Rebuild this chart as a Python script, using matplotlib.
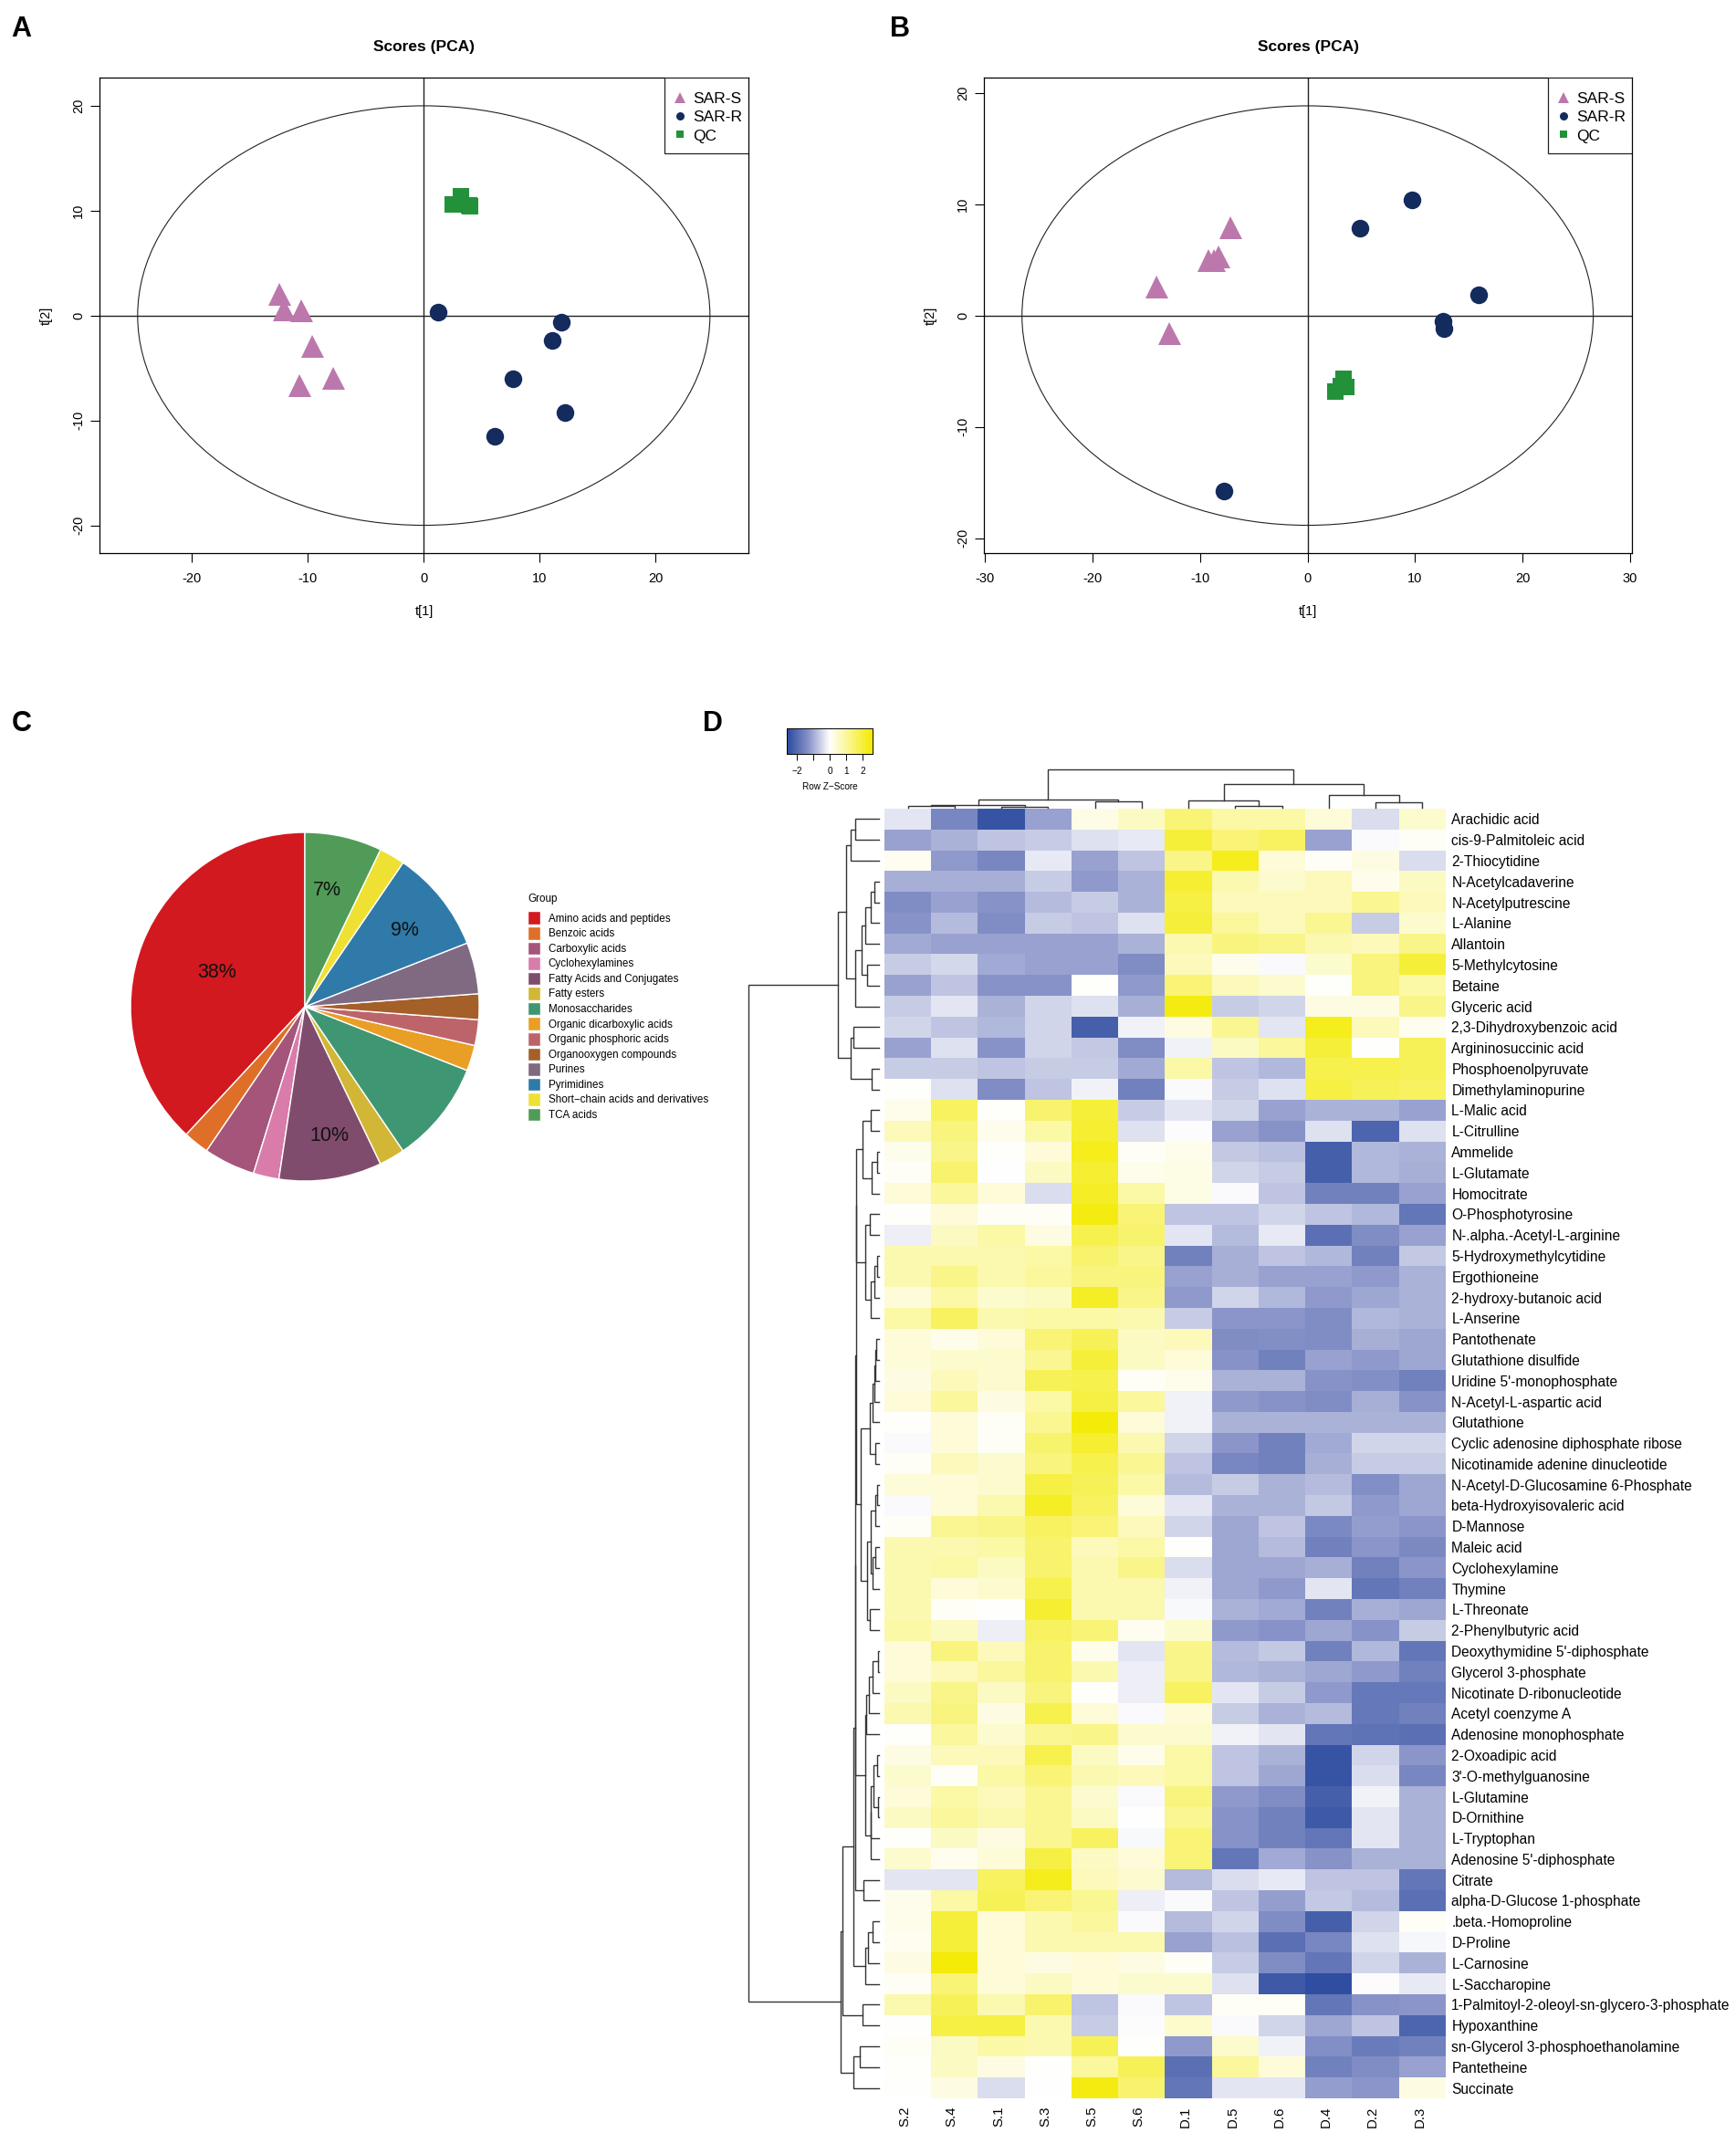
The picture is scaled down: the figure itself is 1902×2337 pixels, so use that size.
import numpy as np
import matplotlib
matplotlib.use('Agg')
import matplotlib.pyplot as plt
from matplotlib.colors import LinearSegmentedColormap
from matplotlib.lines import Line2D
from matplotlib.patches import Ellipse, Rectangle

plt.rcParams['font.family'] = ['Liberation Sans', 'DejaVu Sans']
plt.rcParams['axes.unicode_minus'] = False

W, H = 1902, 2337

# PCA scores
a_tri_x = [-12.5, -12.1, -10.6, -9.6, -7.8, -10.7]
a_tri_y = [2.1, 0.6, 0.5, -2.9, -5.9, -6.6]
a_cir_x = [1.2, 11.9, 11.1, 7.7, 12.2, 6.1]
a_cir_y = [0.3, -0.6, -2.4, -6.0, -9.2, -11.5]
a_sq_x = [3.2, 2.5, 4.0, 3.9]
a_sq_y = [11.4, 10.6, 10.4, 10.5]

b_tri_x = [-7.2, -9.2, -8.7, -8.3, -14.1, -12.9]
b_tri_y = [7.9, 5.0, 5.0, 5.3, 2.6, -1.6]
b_cir_x = [9.7, 4.9, 15.9, 12.6, 12.7, -7.8]
b_cir_y = [10.4, 7.85, 1.9, -0.55, -1.2, -15.8]
b_sq_x = [3.3, 3.1, 3.6, 2.6]
b_sq_y = [-5.7, -6.35, -6.4, -6.8]

# pie
groups = ['Amino acids and peptides', 'Benzoic acids', 'Carboxylic acids', 'Cyclohexylamines',
          'Fatty Acids and Conjugates', 'Fatty esters', 'Monosaccharides', 'Organic dicarboxylic acids',
          'Organic phosphoric acids', 'Organooxygen compounds', 'Purines', 'Pyrimidines',
          'Short\u2212chain acids and derivatives', 'TCA acids']
group_counts = [16, 1, 2, 1, 4, 1, 4, 1, 1, 1, 2, 4, 1, 3]
group_colors = ['#d2191f', '#df6f28', '#a5557a', '#d97cab', '#804c6d', '#d2b737', '#3f9672',
                '#e99f26', '#bd646b', '#a55f29', '#806a82', '#2f7aa8', '#efe133', '#509b57']
pie_labels = ['38%', '7%', '9%', '10%']

# heatmap
samples = ['S.2', 'S.4', 'S.1', 'S.3', 'S.5', 'S.6', 'D.1', 'D.5', 'D.6', 'D.4', 'D.2', 'D.3']
metabolites = ['Arachidic acid', 'cis-9-Palmitoleic acid', '2-Thiocytidine', 'N-Acetylcadaverine',
               'N-Acetylputrescine', 'L-Alanine', 'Allantoin', '5-Methylcytosine', 'Betaine', 'Glyceric acid',
               '2,3-Dihydroxybenzoic acid', 'Argininosuccinic acid', 'Phosphoenolpyruvate', 'Dimethylaminopurine',
               'L-Malic acid', 'L-Citrulline', 'Ammelide', 'L-Glutamate', 'Homocitrate', 'O-Phosphotyrosine',
               'N-.alpha.-Acetyl-L-arginine', '5-Hydroxymethylcytidine', 'Ergothioneine', '2-hydroxy-butanoic acid',
               'L-Anserine', 'Pantothenate', 'Glutathione disulfide', "Uridine 5'-monophosphate",
               'N-Acetyl-L-aspartic acid', 'Glutathione', 'Cyclic adenosine diphosphate ribose',
               'Nicotinamide adenine dinucleotide', 'N-Acetyl-D-Glucosamine 6-Phosphate',
               'beta-Hydroxyisovaleric acid', 'D-Mannose', 'Maleic acid', 'Cyclohexylamine', 'Thymine',
               'L-Threonate', '2-Phenylbutyric acid', "Deoxythymidine 5'-diphosphate", 'Glycerol 3-phosphate',
               'Nicotinate D-ribonucleotide', 'Acetyl coenzyme A', 'Adenosine monophosphate', '2-Oxoadipic acid',
               "3'-O-methylguanosine", 'L-Glutamine', 'D-Ornithine', 'L-Tryptophan', "Adenosine 5'-diphosphate",
               'Citrate', 'alpha-D-Glucose 1-phosphate', '.beta.-Homoproline', 'D-Proline', 'L-Carnosine',
               'L-Saccharopine', '1-Palmitoyl-2-oleoyl-sn-glycero-3-phosphate', 'Hypoxanthine',
               'sn-Glycerol 3-phosphoethanolamine', 'Pantetheine', 'Succinate']
zscores = [
    [-0.3, -1.5, -2.4, -1.1, 0.25, 0.6, 1.4, 0.9, 0.9, 0.4, -0.4, 0.5],
    [-1.1, -0.9, -0.7, -0.6, -0.35, -0.25, 2.0, 1.4, 1.6, -1.1, -0.05, 0.1],
    [0.15, -1.2, -1.5, -0.25, -1.1, -0.7, 1.2, 2.3, 0.4, 0.1, 0.3, -0.4],
    [-0.95, -0.95, -0.95, -0.6, -1.2, -0.9, 2.1, 0.8, 0.5, 0.7, 0.2, 0.6],
    [-1.4, -1.1, -1.3, -0.8, -0.6, -0.9, 1.9, 0.7, 0.7, 0.7, 1.1, 0.7],
    [-1.3, -0.8, -1.4, -0.6, -0.7, -0.35, 2.0, 1.0, 0.7, 1.1, -0.6, 0.5],
    [-1.0, -1.1, -1.1, -1.1, -1.1, -0.9, 0.8, 1.3, 1.2, 0.8, 0.7, 1.2],
    [-0.6, -0.45, -1.0, -1.1, -1.1, -1.4, 0.7, 0.2, -0.05, 0.5, 1.3, 2.0],
    [-1.1, -0.7, -1.3, -1.3, 0.05, -1.2, 1.4, 0.7, 0.5, 0.05, 1.3, 0.9],
    [-0.6, -0.3, -0.9, -0.5, -0.35, -0.95, 2.4, -0.6, -0.5, 0.3, 0.3, 1.2],
    [-0.5, -0.7, -0.85, -0.5, -2.2, -0.15, 0.3, 1.1, -0.3, 2.3, 0.7, 0.15],
    [-1.1, -0.35, -1.3, -0.5, -0.65, -1.4, -0.15, 0.6, 1.0, 2.0, 0.03, 1.7],
    [-0.6, -0.6, -0.7, -0.6, -0.6, -1.0, 0.9, -0.7, -0.85, 1.8, 1.8, 1.7],
    [0.05, -0.35, -1.4, -0.7, -0.15, -1.6, -0.05, -0.6, -0.35, 1.9, 1.7, 1.6],
    [0.2, 1.6, 0.05, 1.5, 2.0, -0.6, -0.3, -0.5, -1.1, -0.9, -0.9, -1.1],
    [0.7, 1.3, 0.2, 0.9, 2.1, -0.35, -0.03, -1.1, -1.3, -0.35, -2.1, -0.35],
    [0.2, 1.2, 0.05, 0.4, 2.3, 0.1, 0.2, -0.65, -0.75, -2.2, -0.85, -0.9],
    [0.1, 1.5, 0.02, 0.6, 2.1, 0.2, 0.25, -0.5, -0.6, -2.2, -0.85, -0.95],
    [0.4, 1.0, 0.4, -0.4, 2.2, 0.9, 0.25, -0.05, -0.7, -1.6, -1.6, -1.1],
    [0.05, 0.4, 0.1, 0.1, 2.4, 1.4, -0.7, -0.7, -0.5, -0.7, -0.85, -1.8],
    [-0.2, 0.6, 0.9, 0.3, 1.8, 1.5, -0.3, -0.8, -0.25, -1.9, -1.4, -1.1],
    [0.8, 0.8, 0.8, 0.9, 1.5, 1.2, -1.6, -0.95, -0.7, -0.85, -1.6, -0.65],
    [0.8, 1.2, 0.8, 1.0, 1.3, 1.3, -1.1, -0.95, -1.1, -1.1, -1.2, -0.9],
    [0.4, 0.9, 0.5, 0.6, 2.2, 1.2, -1.2, -0.5, -0.85, -1.2, -1.05, -0.9],
    [0.9, 1.6, 0.8, 0.9, 0.9, 0.8, -0.6, -1.25, -1.25, -1.4, -0.85, -0.9],
    [0.4, 0.2, 0.4, 1.4, 1.7, 0.6, 0.7, -1.4, -1.35, -1.4, -0.95, -1.05],
    [0.4, 0.5, 0.5, 1.1, 2.0, 0.6, 0.4, -1.3, -1.6, -1.1, -1.2, -1.05],
    [0.3, 0.7, 0.5, 1.7, 1.8, 0.1, 0.2, -0.9, -0.9, -1.3, -1.35, -1.6],
    [0.4, 1.0, 0.3, 0.9, 1.9, 1.0, -0.15, -1.2, -1.3, -1.4, -0.95, -1.3],
    [0.05, 0.4, 0.1, 1.1, 2.5, 0.4, -0.15, -0.9, -0.9, -0.9, -0.9, -0.9],
    [-0.05, 0.4, 0.1, 1.5, 2.1, 0.8, -0.5, -1.25, -1.6, -1.0, -0.5, -0.5],
    [0.1, 0.7, 0.5, 1.3, 1.8, 1.1, -0.7, -1.5, -1.6, -0.95, -0.6, -0.6],
    [0.4, 0.4, 0.5, 1.9, 1.7, 0.9, -0.8, -0.6, -0.9, -0.8, -1.35, -1.05],
    [-0.05, 0.4, 0.8, 2.2, 1.6, 0.4, -0.3, -0.9, -0.9, -0.65, -1.2, -1.05],
    [0.1, 1.1, 1.2, 1.6, 1.4, 0.7, -0.5, -1.05, -0.7, -1.45, -1.15, -1.25],
    [0.8, 0.8, 0.9, 1.5, 0.7, 0.9, 0.05, -1.05, -0.8, -1.6, -1.25, -1.45],
    [0.8, 0.9, 0.6, 1.5, 0.8, 1.2, -0.4, -1.05, -1.05, -0.95, -1.6, -1.25],
    [0.8, 0.4, 0.5, 1.8, 0.8, 0.8, -0.15, -1.05, -1.2, -0.3, -1.8, -1.6],
    [0.8, 0.1, 0.03, 2.1, 0.8, 0.8, -0.08, -0.9, -1.0, -1.6, -0.95, -1.05],
    [0.9, 0.6, -0.2, 1.6, 1.4, 0.15, 0.5, -1.2, -1.3, -1.05, -1.3, -0.6],
    [0.4, 1.3, 0.7, 1.5, 0.2, -0.3, 1.2, -0.8, -0.65, -1.6, -0.85, -1.8],
    [0.4, 0.7, 1.0, 1.5, 0.8, -0.2, 1.2, -0.85, -0.9, -1.05, -1.2, -1.6],
    [0.6, 1.2, 0.6, 1.3, 0.05, -0.2, 1.6, -0.3, -0.6, -1.2, -1.75, -1.75],
    [0.8, 1.3, 0.3, 1.8, 0.4, -0.05, 0.4, -0.6, -0.9, -0.8, -1.75, -1.6],
    [0.05, 1.0, 0.5, 1.1, 1.2, 0.5, 0.5, -0.15, -0.3, -1.8, -1.85, -1.9],
    [0.3, 0.7, 0.7, 1.8, 0.6, 0.2, 0.9, -0.7, -0.9, -2.4, -0.5, -1.25],
    [0.5, 0.1, 0.9, 1.4, 0.8, 0.7, 0.9, -0.7, -1.05, -2.4, -0.4, -1.5],
    [0.4, 0.9, 0.7, 1.1, 0.5, -0.05, 1.3, -1.2, -1.4, -2.2, -0.15, -0.9],
    [0.6, 1.0, 0.8, 1.1, 0.6, 0.02, 1.1, -1.3, -1.6, -2.3, -0.3, -0.9],
    [0.05, 0.6, 0.3, 1.1, 1.6, -0.08, 1.4, -1.3, -1.6, -1.8, -0.3, -0.9],
    [0.5, 0.15, 0.4, 1.9, 0.6, 0.4, 1.4, -1.8, -1.0, -1.3, -0.9, -0.9],
    [-0.3, -0.3, 1.6, 2.3, 0.7, 0.5, -0.8, -0.4, -0.25, -0.7, -0.7, -1.8],
    [0.2, 0.9, 1.7, 1.4, 1.1, -0.2, -0.05, -0.7, -1.15, -0.65, -0.8, -1.9],
    [0.2, 2.0, 0.4, 0.8, 1.0, -0.05, -0.8, -0.5, -1.4, -2.2, -0.5, 0.1],
    [0.15, 2.0, 0.4, 0.8, 0.8, 0.8, -1.1, -0.75, -1.9, -1.5, -0.35, -0.1],
    [0.3, 2.5, 0.4, 0.3, 0.4, 0.3, 0.1, -0.6, -1.4, -1.8, -0.5, -0.9],
    [0.1, 1.4, 0.4, 0.6, 0.4, 0.5, 0.5, -0.35, -2.3, -2.5, -0.03, -0.25],
    [0.8, 1.7, 0.8, 1.5, -0.7, -0.05, -0.7, 0.1, 0.1, -1.8, -1.3, -1.25],
    [0.03, 1.9, 1.9, 0.8, -0.6, -0.04, 0.5, -0.05, -0.5, -1.05, -0.7, -2.1],
    [0.1, 0.6, 0.9, 0.8, 1.7, 0.03, -1.2, 0.5, -0.15, -1.35, -1.7, -1.6],
    [0.05, 0.6, 0.3, 0.03, 1.0, 1.7, -1.9, 1.0, 0.4, -1.6, -1.4, -1.1],
    [0.03, 0.3, -0.4, 0.02, 2.4, 1.5, -1.8, -0.3, -0.3, -1.15, -1.25, 0.3],
]

# dendrograms as (height, left, right), leaves are 1-based positions
col_tree = (124,
            (26, (10, (5, 1, 2), (4, 3, 4)), (20, 5, 6)),
            (76, (24, 7, (5, 8, 9)), (41, 10, (17, 11, 12))))
row_upper = (62,
             (49,
              (42, (36, 1, 2), 3),
              (36, (26, (20, (12, (7, 4, 5), 6), 7), (18, 8, 9)), 10)),
             (43, (38, 11, 12), (11, 13, 14)))
row_mid = (34,
           (34,
            (24, (13, 15, 16), (11, (3, 17, 18), 19)),
            (21, (14, 20, 21), (12, (7, (3, 22, 23), 24), 25))),
           (27,
            (14, (9, (7, (5, (4, 26, 27), 28), 29), 30), (5, 31, 32)),
            (18, (13, (6, (3, 33, 34), 35), (9, (6, 36, 37), 38)), (14, 39, 40))))
row_late = (21,
            (19, (15, (10, (2, 41, 42), 43), 44), 45),
            (13, (12, (8, (3, 46, 47), (2, 48, 49)), 50), 51))
row_lower = (57,
             (55,
              (39,
               (36, (35, row_mid, row_late), (23, 52, 53)),
               (21, (17, (9, 54, 55), 56), 57)),
              (24, 58, 59)),
             (39, (29, 60, 61), 62))
row_tree = (196, row_upper, row_lower)


def px_axes(x0, y0, x1, y1):
    return fig.add_axes([x0 / W, 1 - y1 / H, (x1 - x0) / W, (y1 - y0) / H])


def draw_tree(ax, node, horizontal):
    # returns position and height of the node, draws its two legs
    if not isinstance(node, tuple):
        return node - 0.5, 0
    h, left, right = node
    p1, h1 = draw_tree(ax, left, horizontal)
    p2, h2 = draw_tree(ax, right, horizontal)
    xs, ys = [p1, p1, p2, p2], [h1, h, h, h2]
    if horizontal:
        xs, ys = ys, xs
    ax.plot(xs, ys, color='#333333', lw=1.0, solid_joinstyle='miter', clip_on=False)
    return (p1 + p2) / 2, h


def scores_panel(box, xlim, ylim, xticks, yticks, ell, tri, cir, sq):
    ax = px_axes(*box)
    ax.set_xlim(*xlim)
    ax.set_ylim(*ylim)
    ax.add_patch(Ellipse((0, 0), ell[0] * 2, ell[1] * 2, fill=False, ec='#222222', lw=0.8))
    ax.axhline(0, color='#222222', lw=1.0)
    ax.axvline(0, color='#222222', lw=1.0)
    ax.plot(*tri, '^', color='#bc78ad', ms=18, mew=0, ls='none')
    ax.plot(*cir, 'o', color='#142b5e', ms=14, mew=0, ls='none')
    ax.plot(*sq, 's', color='#23913a', ms=13.5, mew=0, ls='none')
    ax.set_xticks(xticks)
    ax.set_yticks(yticks)
    ax.set_yticklabels(yticks, rotation=90, va='center')
    ax.tick_params(labelsize=10.5, length=7, width=0.8)
    ax.tick_params(axis='x', pad=8)
    ax.tick_params(axis='y', pad=4.5)
    ax.set_xlabel('t[1]', fontsize=10.5, labelpad=16)
    ax.set_ylabel('t[2]', fontsize=10.5, labelpad=15.5)
    ax.set_title('Scores (PCA)', fontsize=12.5, fontweight='bold', pad=21)
    for s in ax.spines.values():
        s.set_linewidth(0.9)
    # legend box stuck to the top right corner, like R's legend("topright")
    axw, axh = box[2] - box[0], box[3] - box[1]
    lw, lh = 92 / axw, 83 / axh
    ax.add_patch(Rectangle((1 - lw, 1 - lh), lw, lh, transform=ax.transAxes, fc='white', ec='#222222', lw=0.9,
                           zorder=4))
    handles = [Line2D([], [], marker='^', color='#bc78ad', ls='none', ms=8.5, mew=0),
               Line2D([], [], marker='o', color='#142b5e', ls='none', ms=6.5, mew=0),
               Line2D([], [], marker='s', color='#23913a', ls='none', ms=6, mew=0)]
    leg = ax.legend(handles, ['SAR-S', 'SAR-R', 'QC'], loc='upper left', frameon=False, fontsize=12.5,
                    bbox_to_anchor=(1 - lw + 8 / axw, 1 - 16 / axh), borderaxespad=0, borderpad=0,
                    labelspacing=0.29, handletextpad=0.32, handlelength=1.0)
    leg.set_zorder(5)
    return ax


fig = plt.figure(figsize=(W / 100, H / 100), dpi=100, facecolor='white')

scores_panel((109, 85, 820, 606), (-27.97, 28.0), (-22.63, 22.67), [-20, -10, 0, 10, 20], [-20, -10, 0, 10, 20],
             (24.68, 19.98), (a_tri_x, a_tri_y), (a_cir_x, a_cir_y), (a_sq_x, a_sq_y))
scores_panel((1078, 85, 1788, 606), (-30.1, 30.16), (-21.35, 21.39), [-30, -20, -10, 0, 10, 20, 30],
             [-20, -10, 0, 10, 20], (26.56, 18.85), (b_tri_x, b_tri_y), (b_cir_x, b_cir_y), (b_sq_x, b_sq_y))

# pie
ax_pie = px_axes(143, 912, 525, 1294)
wedges, _ = ax_pie.pie(group_counts, colors=group_colors, startangle=90, counterclock=True, radius=1,
                       wedgeprops={'edgecolor': 'white', 'linewidth': 1.0})
ax_pie.set_xlim(-1, 1)
ax_pie.set_ylim(-1, 1)
for txt, tx, ty in zip(pie_labels, [-0.505, 0.129, 0.574, 0.142], [0.197, 0.67, 0.437, -0.74]):
    ax_pie.text(tx, ty, txt, ha='center', va='center', fontsize=15.5, color='#111111')
leg_pie = fig.legend(wedges, groups, title='Group', loc='upper left', bbox_to_anchor=(575 / W, 1 - 976 / H),
                     frameon=False, fontsize=8.35, title_fontsize=8.35, alignment='left', handlelength=1.2,
                     handleheight=1.56, labelspacing=0.17, handletextpad=0.7, borderpad=0.3, borderaxespad=0)
leg_pie._legend_box.sep = 5

# heatmap
cmap = LinearSegmentedColormap.from_list('zs', [(0, '#2a4a9f'), (0.25, '#8792c8'), (0.5, '#ffffff'), (1, '#f4eb00')])
data = np.array(zscores)
ax_hm = px_axes(969, 886, 1584, 2299)
ax_hm.imshow(data, cmap=cmap, vmin=-2.6, vmax=2.6, aspect='auto', interpolation='nearest')
ax_hm.set_xticks(np.arange(len(samples)) - 0.06)
ax_hm.set_xticklabels(samples, rotation=90, fontsize=10.8)
ax_hm.set_yticks(range(len(metabolites)))
ax_hm.set_yticklabels(metabolites, fontsize=11.2)
ax_hm.yaxis.tick_right()
ax_hm.tick_params(length=0, axis='y', pad=4.5)
ax_hm.tick_params(length=0, axis='x', pad=6)
for s in ax_hm.spines.values():
    s.set_visible(False)

ax_ct = px_axes(969, 843, 1584, 885)
draw_tree(ax_ct, col_tree, False)
ax_ct.set_xlim(0, 12)
ax_ct.set_ylim(0, 124)
ax_ct.axis('off')

ax_rt = px_axes(820, 886, 963, 2299)
draw_tree(ax_rt, row_tree, True)
ax_rt.set_xlim(196, 0)
ax_rt.set_ylim(62, 0)
ax_rt.axis('off')

# colour key
ax_key = px_axes(862, 798, 956, 826)
key_vals = np.linspace(-2.6, 2.6, 200)[None, :]
ax_key.imshow(key_vals, cmap=cmap, vmin=-2.6, vmax=2.6, aspect='auto', extent=(-2.6, 2.6, 0, 1))
ax_key.set_yticks([])
ax_key.set_xticks([-2, -1, 0, 1, 2])
ax_key.set_xticklabels(['\u22122', '', '0', '1', '2'], fontsize=7.2)
ax_key.tick_params(length=5, width=0.7, pad=5)
ax_key.set_xlabel('Row Z\u2212Score', fontsize=7.2, labelpad=5)
for s in ax_key.spines.values():
    s.set_linewidth(0.7)

# panel letters
for letter, px, py in [('A', 12, 40), ('B', 975, 40), ('C', 13, 801), ('D', 770, 801)]:
    fig.text(px / W, 1 - py / H, letter, fontsize=22, fontweight='bold', ha='left', va='baseline')

fig.savefig('out.png', dpi=100)
